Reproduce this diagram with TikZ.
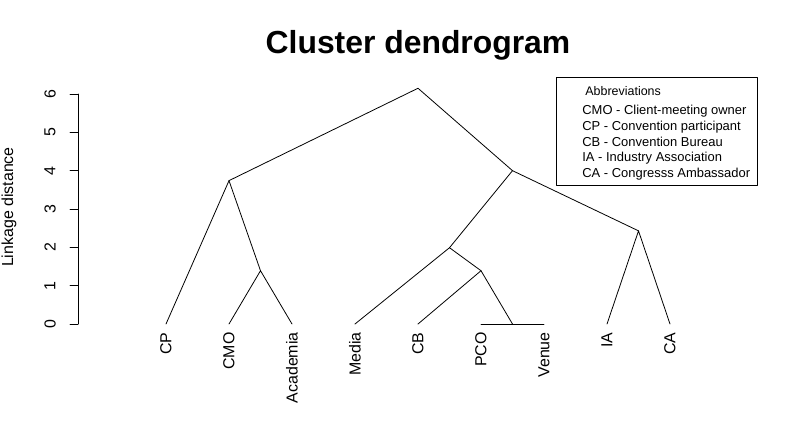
\documentclass[tikz,border=0pt]{standalone}
\usepackage{fontspec}
\setmainfont{Liberation Sans}
\begin{document}
\begin{tikzpicture}[x=63bp,y=38.333bp,line join=round,line cap=round,line width=0.8pt,font=\fontsize{16}{19}\selectfont]
	\tikzset{declare function={
			x1=-1.6349;x2=11.0317;y1=-2.8174;y2=8.4522;
			xa=-0.397;
		},
		leaf/.style={rotate=90,anchor=east,inner sep=0pt},
		ticklab/.style={rotate=90,inner sep=0pt},
		legend/.style={anchor=base west,inner sep=0pt,font=\fontsize{13}{15}\selectfont}
	}
	\useasboundingbox (x1,y1)rectangle(x2,y2);
	\node[anchor=base,inner sep=0pt] (title) at (5,7.062) {\fontsize{32}{38}\selectfont\bfseries Cluster dendrogram};
	% axis
	\draw (xa,0)--(xa,6);
	\foreach \y in {0,...,6}{
		\draw (xa,\y)--(-0.524,\y);
		\node[ticklab] (t\y) at (-0.841,\y) {\y};
	}
	\node[rotate=90] (ylab) at (-1.492,3.05) {Linkage distance};
	% leaves
	\foreach \i/\name in {1/CP,2/CMO,3/Academia,4/Media,5/CB,6/PCO,7/Venue,8/IA,9/CA}{
		\coordinate (\name) at (\i,0);
		\node[leaf] (l\i) at ([yshift=-8bp]\name) {\name};
	}
	% merges
	\coordinate (m1) at (2.5,1.39);
	\coordinate (m2) at (2,3.74);
	\coordinate (m3) at (6.5,0);
	\coordinate (m4) at (6,1.39);
	\coordinate (m5) at (5.5,1.99);
	\coordinate (m6) at (8.5,2.43);
	\coordinate (m7) at (6.5,4.0);
	\coordinate (root) at (5,6.15);
	\draw (CP)--(m2)--(m1);
	\draw (CMO)--(m1)--(Academia);
	\draw (PCO)--(Venue);
	\draw (m3)--(m4)--(CB);
	\draw (m4)--(m5)--(Media);
	\draw (m5)--(m7)--(m6);
	\draw (IA)--(m6)--(CA);
	\draw (m2)--(root)--(m7);
	% legend
	\draw (7.202,6.425)rectangle(10.386,3.626);
	\node[legend,font=\fontsize{12.5}{15}\selectfont] (abbr) at (7.651,5.96) {Abbreviations};
	\foreach \t [count=\k] in {CMO - Client-meeting owner,CP - Convention participant,CB - Convention Bureau,IA - Industry Association,CA - Congresss Ambassador}{
		\node[legend] (a\k) at (7.603,{5.467-(\k-1)*0.412}) {\t};
	}
\end{tikzpicture}
\end{document}
